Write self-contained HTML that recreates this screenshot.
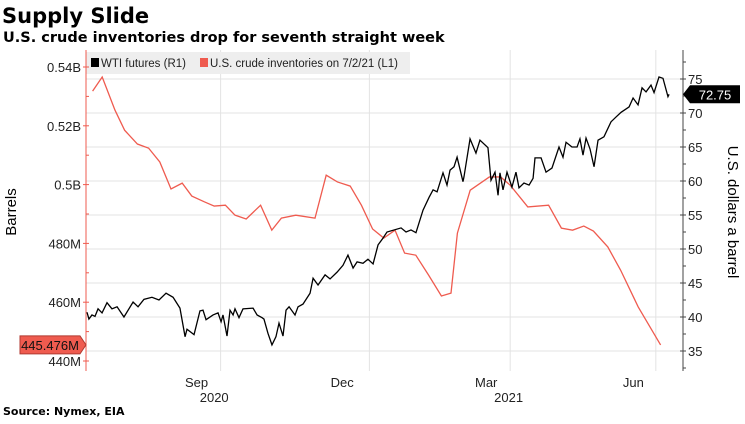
<!DOCTYPE html>
<html><head><meta charset="utf-8"><style>
body{margin:0;background:#fff;width:745px;height:419px;overflow:hidden;font-family:"Liberation Sans",sans-serif}
svg text{font-family:"Liberation Sans",sans-serif}
svg text.dv{font-family:"DejaVu Sans",sans-serif}
</style></head><body>
<svg id="chart" width="745" height="419" viewBox="0 0 745 419" xmlns="http://www.w3.org/2000/svg">
<text class="dv" x="2" y="23" font-size="21" font-weight="bold" fill="#000">Supply Slide</text>
<text class="dv" x="3" y="42" font-size="14.5" font-weight="bold" fill="#000">U.S. crude inventories drop for seventh straight week</text>
<text class="dv" x="3" y="415" font-size="11" font-weight="bold" fill="#000">Source: Nymex, EIA</text>
<g id="grid"></g>
<g>
<rect x="86" y="52" width="324" height="22" fill="#eeeeee"/>
<rect x="91" y="58" width="8" height="9" fill="#000"/>
<text x="101" y="67" font-size="11.5" fill="#222">WTI futures (R1)</text>
<rect x="200" y="58" width="8" height="9" fill="#ef5b4f"/>
<text x="210" y="67" font-size="11.5" fill="#222">U.S. crude inventories on 7/2/21 (L1)</text>
</g>
<g id="axes"></g>
<g id="series"></g>
<text transform="translate(16,212) rotate(-90)" text-anchor="middle" font-size="15" fill="#000">Barrels</text>
<text transform="translate(728,212) rotate(90)" text-anchor="middle" font-size="15" fill="#000">U.S. dollars a barrel</text>
</svg>
<script>
const invDays=[1,7,15,21,29,36,43,50,57,63,71,77,84,90,97,106,113,119,128,140,147,154,162,169,176,183,190,196,203,211,219,225,229,237,249,256,262,273,286,294,301,308,314,323,331,342,356];
const invValues=[531.8,536.6,525.3,518.5,513.8,512.4,507.7,498.5,500.5,496.1,494.1,492.7,493.0,489.6,488.3,493.0,484.5,488.6,489.6,488.6,503.2,500.9,499.5,493.0,484.9,481.8,484.5,476.7,476.0,469.2,462.1,463.1,483.5,498.1,502.6,502.6,499.8,492.4,493.0,485.2,484.5,485.9,484.2,478.8,470.9,458.4,445.476];
const wtiDays=[-2.5,-1.3,0.6,2.5,4.4,6.9,10,13.1,16.3,20.6,26.3,29.4,33.1,38.1,42.5,46.9,51.3,55.6,58.8,60,64.4,68.1,70,71.9,76.3,79.4,81.3,82.5,85,86.9,88.8,90,92.5,95,101.3,103.8,106.9,108.1,110.6,113.1,115.6,117.5,120,121.9,123.8,127.5,129.4,132.5,136.9,138.8,141.9,146.3,149.4,153.8,157.5,160.6,163.8,166.3,170,173.1,176.3,179.4,182.5,185,193.8,196.9,200,203.1,207.5,211.3,213.8,216.3,220,222.5,224.4,226.9,228.8,232.5,233.1,236.9,240.6,243.1,248.1,250,252.5,254.4,255.6,257.5,260,263.1,265.6,267.5,270.6,273.8,276.3,277.5,281.3,284.4,288.1,292.5,295,296.9,300.6,303.8,305.6,307.5,309.4,311.9,314.4,316.9,320.6,325,328.1,331.3,336.3,338.8,341.9,344.4,346.9,350,351.9,355,357.5,360.6,361.3];
const wtiValues=[40.7,39.7,40.3,40.1,41.2,40.6,42.1,41.2,41.5,40.0,42.2,41.5,42.6,42.9,42.5,43.5,42.9,41.3,37.1,38.2,37.4,40.9,41.0,39.6,40.3,40.6,39.3,40.3,37.2,41.0,40.3,41.2,39.9,41.2,41.3,40.3,39.9,39.7,37.6,35.9,37.1,39.1,37.2,41.0,41.5,40.3,41.5,41.9,43.5,45.7,44.7,46.2,45.6,46.6,47.6,49.1,47.2,48.1,47.9,48.5,47.8,50.6,51.6,52.5,53.1,52.5,52.8,52.4,55.7,57.6,58.7,58.4,61.2,59.4,61.6,62.1,63.5,59.9,60.6,66.2,64.1,66.0,64.9,60.1,61.3,57.9,61.2,58.7,61.3,59.1,61.3,59.0,59.7,59.4,60.4,63.4,63.4,61.3,61.9,65.0,63.5,65.7,65.0,65.0,66.2,63.8,66.3,64.7,62.1,66.0,66.5,68.7,69.4,70.1,70.9,72.2,71.2,73.7,73.1,74.1,73.0,75.3,75.1,72.4,72.75];
const leftTicks=[440,460,480,500,520,540];
const leftTickLabels=["440M","460M","480M","0.5B","0.52B","0.54B"];
const rightTicks=[35,40,45,50,55,60,65,70,75];
const monthLabels=["Sep","Dec","Mar","Jun"];
const monthDays=[66,157,247,339];
const gridDays=[81,174,262,353];
const yearLabels=["2020","2021"];
const yearDays=[77,261];

const NS="http://www.w3.org/2000/svg";
const X=d=>91+d*1.6;
const YL=v=>361-(v-440)*58.8/20;
const YR=v=>351-(v-35)*6.8;
function mk(tag,attrs,parent){const e=document.createElementNS(NS,tag);for(const k in attrs)e.setAttribute(k,attrs[k]);parent.appendChild(e);return e;}
const grid=document.getElementById('grid'),axes=document.getElementById('axes'),series=document.getElementById('series');
rightTicks.forEach(v=>{const l=mk('line',{x1:86,x2:683,y1:YR(v),y2:YR(v),stroke:'#e3e3e3','stroke-width':1},grid);

});
gridDays.forEach(d=>{const l=mk('line',{x1:X(d),x2:X(d),y1:50,y2:371,stroke:'#e3e3e3','stroke-width':1},grid);

});
const la=mk('line',{x1:86,x2:86,y1:50,y2:371,stroke:'#ef5b4f','stroke-width':1},axes);


leftTicks.forEach((v,i)=>{mk('line',{x1:83,x2:89,y1:YL(v),y2:YL(v),stroke:'#ef5b4f'},axes);
if(i<leftTicks.length-1)mk('line',{x1:86,x2:89,y1:YL(v+10),y2:YL(v+10),stroke:'#ef5b4f'},axes);
const t=mk('text',{x:81,y:YL(v)+5,'text-anchor':'end','font-size':13,fill:'#222'},axes);t.textContent=leftTickLabels[i];

});
const ra=mk('line',{x1:683,x2:683,y1:50,y2:371,stroke:'#444','stroke-width':1},axes);


rightTicks.forEach(v=>{mk('line',{x1:680,x2:686,y1:YR(v),y2:YR(v),stroke:'#444'},axes);
mk('line',{x1:683,x2:686,y1:YR(v+2.5),y2:YR(v+2.5),stroke:'#444'},axes);
const t=mk('text',{x:688,y:YR(v)+5,'font-size':13,fill:'#222'},axes);t.textContent=v;

});
mk('line',{x1:683,x2:686,y1:YR(32.5),y2:YR(32.5),stroke:'#444'},axes);
monthLabels.forEach((m,i)=>{const t=mk('text',{x:X(monthDays[i]),y:387,'text-anchor':'middle','font-size':13,fill:'#222'},axes);t.textContent=m;

});
yearLabels.forEach((m,i)=>{const t=mk('text',{x:X(yearDays[i]),y:402,'text-anchor':'middle','font-size':13,fill:'#222'},axes);t.textContent=m;

});
const ip=mk('polyline',{points:invDays.map((d,i)=>X(d)+','+YL(invValues[i])).join(' '),fill:'none',stroke:'#ef5b4f','stroke-width':1.3},series);


const n=Math.min(wtiDays.length,wtiValues.length);
const wp=mk('polyline',{points:wtiDays.slice(0,n).map((d,i)=>X(d)+','+YR(wtiValues[i])).join(' '),fill:'none',stroke:'#000','stroke-width':1.3},series);


const lastInv=invValues[invValues.length-1],ly=YL(lastInv);
const lt=mk('path',{d:`M20 ${ly-9} H80 L86 ${ly} L80 ${ly+9} H20 Z`,fill:'#ef5b4f',stroke:'#b03a30'},series);


const ltt=mk('text',{x:50,y:ly+5,'text-anchor':'middle','font-size':13,fill:'#111'},series);ltt.textContent=lastInv.toFixed(3)+'M';


const lastW=wtiValues[n-1],wy=YR(lastW);
const rt=mk('path',{d:`M683 ${wy} L690 ${wy-9} H740 V${wy+9} H690 Z`,fill:'#000'},series);


const rtt=mk('text',{x:715,y:wy+5,'text-anchor':'middle','font-size':13,fill:'#fff'},series);rtt.textContent=lastW.toFixed(2);


</script>
</body></html>
